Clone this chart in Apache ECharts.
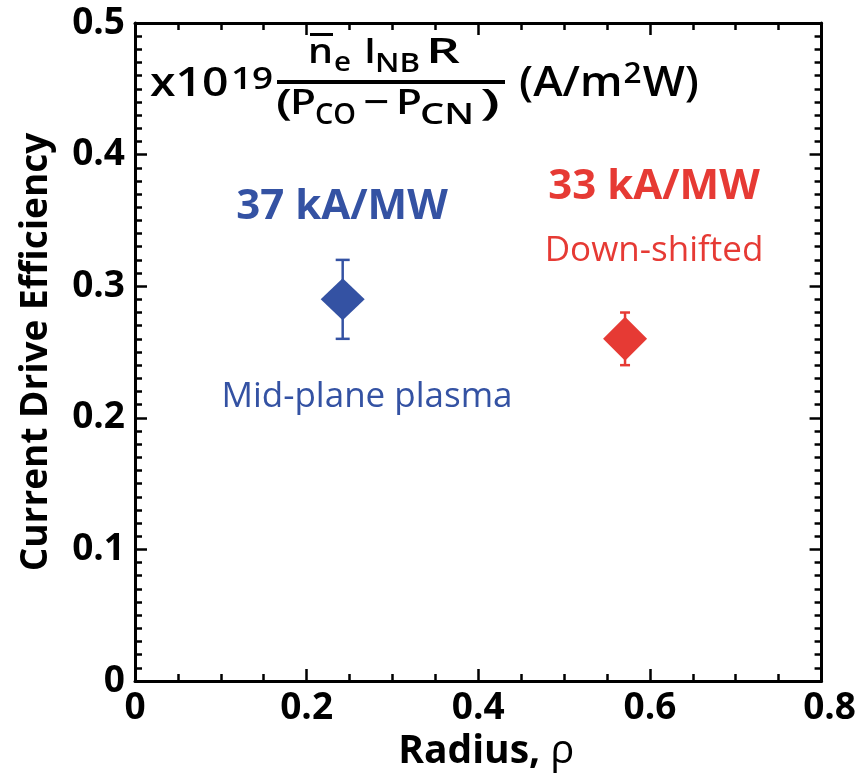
<!DOCTYPE html>
<html>
<head>
<meta charset="utf-8">
<script src="https://cdn.jsdelivr.net/npm/echarts@6/dist/echarts.min.js"></script>
<style>
html,body{margin:0;padding:0;background:#fff;}
#c{width:859px;height:778px;}
</style>
</head>
<body>
<div id="c"></div>
<script>
// ---- data ----
const seriesNames = ['Mid-plane plasma', 'Down-shifted'];
const radius = [0.242, 0.571];
const efficiency = [0.29, 0.26];
const errLow = [0.26, 0.24];
const errHigh = [0.32, 0.28];
const efficiencyLabels = ['37 kA/MW', '33 kA/MW'];
const xTicks = [0, 0.2, 0.4, 0.6, 0.8];
const yTicks = [0, 0.1, 0.2, 0.3, 0.4, 0.5];

const colors = ['#3452a3', '#e63a34'];
const FONT = '"Open Sans", "Noto Sans", sans-serif';

const chart = echarts.init(document.getElementById('c'), null, {renderer: 'canvas'});

// measure helper for formula layout
const mctx = document.createElement('canvas').getContext('2d');
function tw(t, fs, w) { mctx.font = w + ' ' + fs + 'px "Open Sans"'; return mctx.measureText(t).width; }
function txt(x, base, t, fs, w, sx) {
  return {type: 'text', x: x, y: base - 0.388 * fs, scaleX: sx || 1, silent: true,
    style: {text: t, fontFamily: FONT, fontSize: fs, fontWeight: w, fill: '#000',
      align: 'left', verticalAlign: 'middle'}};
}
// fit text between x1 and x2
function fit(x1, x2, base, t, fs, w) {
  const nw = tw(t, fs, w || 600);
  return txt(x1, base, t, fs, w || 600, (x2 - x1) / nw);
}
// sequence of pieces scaled together to span x1..x2
function seqFit(x1, x2, pieces) {
  let total = 0;
  pieces.forEach(p => { total += tw(p.t, p.fs, p.w || 600) + (p.gap || 0); });
  const s = (x2 - x1) / total;
  const out = []; let x = x1;
  pieces.forEach(p => { x += (p.gap || 0) * s; out.push(txt(x, p.base, p.t, p.fs, p.w || 600, s)); x += tw(p.t, p.fs, p.w || 600) * s; });
  return out;
}

const graphics = [];
// x10^19
graphics.push(...seqFit(150, 273, [
  {t: 'x10', fs: 39, base: 100},
  {t: '19', fs: 31, base: 92, gap: 2}
]));
// numerator
graphics.push(fit(308, 333, 67, 'n', 35));
graphics.push(fit(334, 351, 74, 'e', 27));
graphics.push(fit(364, 376, 67, 'I', 35));
graphics.push(fit(375, 420, 75, 'NB', 27));
graphics.push(fit(426, 460, 67, 'R', 35));
graphics.push({type: 'line', silent: true, shape: {x1: 310, y1: 34.5, x2: 333, y2: 34.5}, style: {stroke: '#000', lineWidth: 3}});
// fraction bar
graphics.push({type: 'line', silent: true, shape: {x1: 277, y1: 82, x2: 505, y2: 82}, style: {stroke: '#000', lineWidth: 4}});
// denominator
graphics.push(fit(276, 292, 119, '(', 36));
graphics.push(fit(290, 316, 118, 'P', 35));
graphics.push(fit(315, 356, 127, 'CO', 29));
graphics.push(fit(363, 389, 118, '\u2212', 35));
graphics.push(fit(396, 422, 118, 'P', 35));
graphics.push(fit(420, 474, 127, 'CN', 29));
graphics.push(fit(480, 500, 119, ')', 36));
// units
graphics.push(...seqFit(519, 699, [
  {t: '(A/m', fs: 41, base: 100},
  {t: '2', fs: 29, base: 86, gap: 1},
  {t: 'W)', fs: 41, base: 100, gap: 1}
]));
// annotations
graphics.push({type: 'text', x: 342, y: 207, silent: true, style: {text: efficiencyLabels[0], fontFamily: FONT, fontSize: 42, fontWeight: 'bold', fill: colors[0], align: 'center', verticalAlign: 'middle'}});
graphics.push({type: 'text', x: 367, y: 397, silent: true, style: {text: seriesNames[0], fontFamily: FONT, fontSize: 35, fontWeight: 'normal', fill: colors[0], align: 'center', verticalAlign: 'middle'}});
graphics.push({type: 'text', x: 654, y: 187, silent: true, style: {text: efficiencyLabels[1], fontFamily: FONT, fontSize: 42, fontWeight: 'bold', fill: colors[1], align: 'center', verticalAlign: 'middle'}});
graphics.push({type: 'text', x: 654, y: 251, silent: true, style: {text: seriesNames[1], fontFamily: FONT, fontSize: 35, fontWeight: 'normal', fill: colors[1], align: 'center', verticalAlign: 'middle'}});

const capW = [14, 10];
const symSizes = [[44, 42], [44, 44]];

const axisCommon = {
  axisLine: {show: true, onZero: false, lineStyle: {color: '#000', width: 3}},
  axisTick: {show: true, inside: true, length: 12, lineStyle: {color: '#000', width: 2.5}},
  minorTick: {show: true, length: 7, lineStyle: {color: '#000', width: 2.5}},
  splitLine: {show: false}
};

const series = [];
seriesNames.forEach((name, i) => {
  series.push({
    type: 'custom', name: name + ' error', xAxisIndex: 0, yAxisIndex: 0, z: 2,
    data: [[radius[i], errLow[i], errHigh[i]]],
    renderItem: function (params, api) {
      const x = api.value(0);
      const lo = api.coord([x, api.value(1)]);
      const hi = api.coord([x, api.value(2)]);
      const hw = capW[i] / 2;
      const st = {stroke: colors[i], lineWidth: 2.5};
      return {type: 'group', children: [
        {type: 'line', shape: {x1: lo[0], y1: lo[1], x2: hi[0], y2: hi[1]}, style: st},
        {type: 'line', shape: {x1: lo[0] - hw, y1: lo[1], x2: lo[0] + hw, y2: lo[1]}, style: st},
        {type: 'line', shape: {x1: hi[0] - hw, y1: hi[1], x2: hi[0] + hw, y2: hi[1]}, style: st}
      ]};
    }
  });
  series.push({
    type: 'scatter', name: name, xAxisIndex: 0, yAxisIndex: 0, z: 3,
    symbol: 'diamond', symbolSize: symSizes[i],
    itemStyle: {color: colors[i], opacity: 1},
    data: [[radius[i], efficiency[i]]]
  });
});

chart.setOption({
  animation: false,
  backgroundColor: '#fff',
  grid: {left: 135, right: 37, top: 23, bottom: 97, containLabel: false},
  xAxis: [
    Object.assign({}, axisCommon, {
      type: 'value', position: 'bottom', min: xTicks[0], max: xTicks[xTicks.length - 1], interval: 0.2,
      minorTick: Object.assign({}, axisCommon.minorTick, {splitNumber: 4}),
      axisLabel: {show: true, margin: 9, color: '#000', fontFamily: FONT, fontSize: 37, fontWeight: 'bold',
        formatter: function (v) { const s = String(+v.toFixed(1)); return v >= 0.79 ? '{r|' + s + '}' : s; },
        rich: {r: {fontFamily: FONT, fontSize: 37, fontWeight: 'bold', color: '#000', padding: [0, 0, 0, 16]}}},
      name: '{b|Radius, }{r|\u03c1}', nameLocation: 'middle', nameGap: 44,
      nameTextStyle: {rich: {
        b: {fontFamily: FONT, fontSize: 39, fontWeight: 'bold', color: '#000', padding: [0, 0, 0, 16]},
        r: {fontFamily: FONT, fontSize: 40, fontWeight: 'normal', color: '#000'}}}
    }),
    Object.assign({}, axisCommon, {
      type: 'value', position: 'top', min: 0, max: 0.8, interval: 0.2,
      minorTick: Object.assign({}, axisCommon.minorTick, {splitNumber: 4}),
      axisLabel: {show: false}
    })
  ],
  yAxis: [
    Object.assign({}, axisCommon, {
      type: 'value', position: 'left', min: yTicks[0], max: yTicks[yTicks.length - 1], interval: 0.1,
      minorTick: Object.assign({}, axisCommon.minorTick, {splitNumber: 10}),
      axisLabel: {show: true, margin: 10, color: '#000', fontFamily: FONT, fontSize: 37, fontWeight: 'bold',
        formatter: function (v) { return String(+v.toFixed(1)); }},
      name: 'Current Drive Efficiency', nameLocation: 'middle', nameGap: 80, nameRotate: 90,
      nameTextStyle: {fontFamily: FONT, fontSize: 37, fontWeight: 'bold', color: '#000'}
    }),
    Object.assign({}, axisCommon, {
      type: 'value', position: 'right', min: 0, max: 0.5, interval: 0.1,
      minorTick: Object.assign({}, axisCommon.minorTick, {splitNumber: 10}),
      axisLabel: {show: false}
    })
  ],
  series: series,
  graphic: graphics
});
</script>
</body>
</html>
